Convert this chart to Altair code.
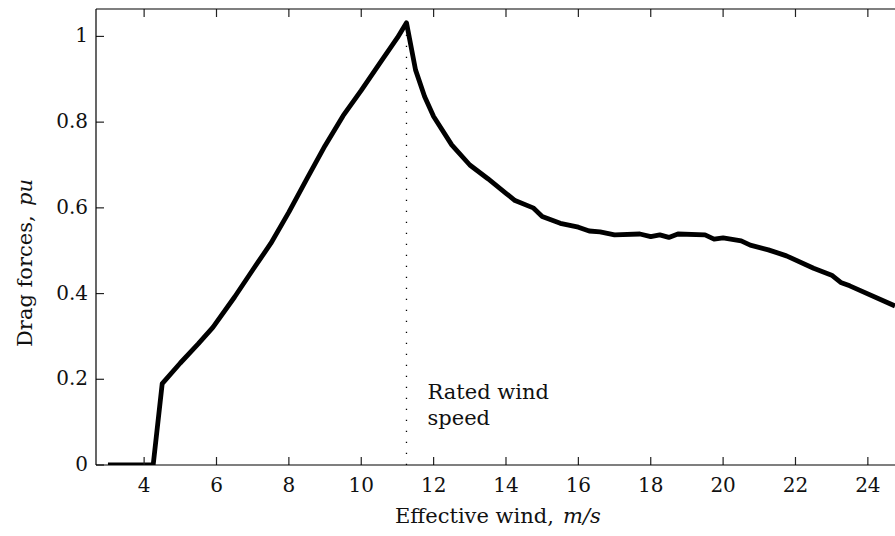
import altair as alt
import pandas as pd

# ---- data ----
wind = [3.0, 4.25, 4.5, 5.0, 5.5, 5.9, 6.5, 7.0, 7.5, 8.0,
        8.5, 9.0, 9.5, 10.0, 10.5, 11.0, 11.25, 11.5, 11.75, 12.0,
        12.5, 13.0, 13.5, 14.0, 14.25, 14.75, 15.0, 15.5, 16.0, 16.3,
        16.6, 17.0, 17.7, 18.0, 18.25, 18.5, 18.75, 19.5, 19.75, 20.0,
        20.5, 20.75, 21.25, 21.75, 22.5, 23.0, 23.25, 23.5, 24.75]
drag = [0, 0, 0.19, 0.238, 0.283, 0.321, 0.392, 0.455, 0.517, 0.59,
        0.668, 0.745, 0.815, 0.874, 0.936, 0.997, 1.032, 0.922, 0.86, 0.813,
        0.747, 0.70, 0.668, 0.634, 0.617, 0.60, 0.58, 0.564, 0.555, 0.546,
        0.544, 0.537, 0.539, 0.533, 0.537, 0.531, 0.539, 0.537, 0.527, 0.530,
        0.523, 0.513, 0.502, 0.488, 0.459, 0.443, 0.426, 0.418, 0.371]
x_ticks = [4, 6, 8, 10, 12, 14, 16, 18, 20, 22, 24]
x_tick_labels = ["4", "6", "8", "10", "12", "14", "16", "18", "20", "22", "24"]
y_ticks = [0, 0.2, 0.4, 0.6, 0.8, 1.0]
y_tick_labels = ["0", "0.2", "0.4", "0.6", "0.8", "1"]
rated_speed = [11.25]
rated_peak = [1.03]
annotation = ["Rated wind\nspeed"]
annotation_y = [0.153]
x_title = "Effective wind,"
x_title_math = "m/s"
y_title = "Drag forces,"
y_title_math = "pu"

# ---- layout ----
W, H = 799, 456
TICK = 8
X_DOMAIN = [2.67, 24.75]
Y_DOMAIN = [0, 1.064]
FONT = "DejaVu Serif"
TXT = "#111111"
FS = 20      # tick labels
FT = 21      # titles / annotation

df = pd.DataFrame({"wind": wind, "drag": drag})
xs = alt.Scale(domain=X_DOMAIN, nice=False, zero=False)
ys = alt.Scale(domain=Y_DOMAIN, nice=False, zero=False)

line = alt.Chart(df).mark_line(
    color="black", strokeWidth=4.8, strokeJoin="round", clip=True
).encode(
    x=alt.X("wind:Q", scale=xs, axis=None),
    y=alt.Y("drag:Q", scale=ys, axis=None),
)

# tick marks (inward, MATLAB style) and tick labels
xt = pd.DataFrame({"tx": x_ticks, "lab": x_tick_labels})
yt = pd.DataFrame({"ty": y_ticks, "lab": y_tick_labels})
tick_style = dict(strokeWidth=1.2, color="#222222")
bottom_ticks = alt.Chart(xt).mark_rule(**tick_style).encode(
    x=alt.X("tx:Q", scale=xs, axis=None), y=alt.value(H), y2=alt.value(H - TICK))
top_ticks = alt.Chart(xt).mark_rule(**tick_style).encode(
    x=alt.X("tx:Q", scale=xs, axis=None), y=alt.value(0), y2=alt.value(TICK))
left_ticks = alt.Chart(yt).mark_rule(**tick_style).encode(
    y=alt.Y("ty:Q", scale=ys, axis=None), x=alt.value(0), x2=alt.value(TICK))
x_labels = alt.Chart(xt).mark_text(
    align="center", baseline="top", font=FONT, fontSize=FS, color=TXT
).encode(x=alt.X("tx:Q", scale=xs, axis=None), y=alt.value(H + 11), text="lab:N")
y_labels = alt.Chart(yt).mark_text(
    align="right", baseline="middle", font=FONT, fontSize=FS, color=TXT
).encode(y=alt.Y("ty:Q", scale=ys, axis=None), x=alt.value(-8), text="lab:N")

# frame (no right edge: the reference is cropped there)
one = pd.DataFrame({"k": [0]})
frame_style = dict(color="black", strokeWidth=1.2)
top_border = alt.Chart(one).mark_rule(**frame_style).encode(
    x=alt.value(0), x2=alt.value(W), y=alt.value(0))
bottom_border = alt.Chart(one).mark_rule(**frame_style).encode(
    x=alt.value(0), x2=alt.value(W), y=alt.value(H))
left_border = alt.Chart(one).mark_rule(**frame_style).encode(
    x=alt.value(0), y=alt.value(0), y2=alt.value(H))

rated_df = pd.DataFrame({"x": rated_speed, "y0": [0], "y1": rated_peak,
                         "label": annotation, "ly": annotation_y})
rated_line = alt.Chart(rated_df).mark_rule(
    color="black", strokeWidth=1.3, strokeDash=[1.3, 9.7]
).encode(
    x=alt.X("x:Q", scale=xs, axis=None),
    y=alt.Y("y0:Q", scale=ys, axis=None), y2="y1:Q")
rated_text = alt.Chart(rated_df).mark_text(
    align="left", baseline="alphabetic", dx=21, font=FONT, fontSize=FT,
    lineBreak="\n", lineHeight=25.7, color=TXT
).encode(
    x=alt.X("x:Q", scale=xs, axis=None),
    y=alt.Y("ly:Q", scale=ys, axis=None), text="label:N")

xtitle = alt.Chart(one).mark_text(
    text=x_title, align="left", baseline="alphabetic", font=FONT, fontSize=FT, color=TXT
).encode(x=alt.value(299), y=alt.value(514))
xtitle_m = alt.Chart(one).mark_text(
    text=x_title_math, align="left", baseline="alphabetic", font=FONT, fontSize=FT,
    fontStyle="italic", color=TXT
).encode(x=alt.value(467), y=alt.value(514))

ytitle = alt.Chart(one).mark_text(
    text=y_title, align="left", baseline="alphabetic", angle=270, font=FONT,
    fontSize=FT, color=TXT
).encode(x=alt.value(-64), y=alt.value(338))
ytitle_m = alt.Chart(one).mark_text(
    text=y_title_math, align="left", baseline="alphabetic", angle=270, font=FONT,
    fontSize=FT, fontStyle="italic", color=TXT
).encode(x=alt.value(-64), y=alt.value(338 - 141))

chart = alt.layer(
    line, rated_line, rated_text, bottom_ticks, top_ticks, left_ticks,
    top_border, bottom_border, left_border, x_labels, y_labels,
    xtitle, xtitle_m, ytitle, ytitle_m
).properties(
    width=W, height=H,
    padding={"left": 96, "top": 9, "right": 0, "bottom": 71},
    autosize=alt.AutoSizeParams(type="none"),
    background="white",
).configure_view(stroke=None)

chart.save("out.html", embed_options={"renderer": "svg", "actions": False})
